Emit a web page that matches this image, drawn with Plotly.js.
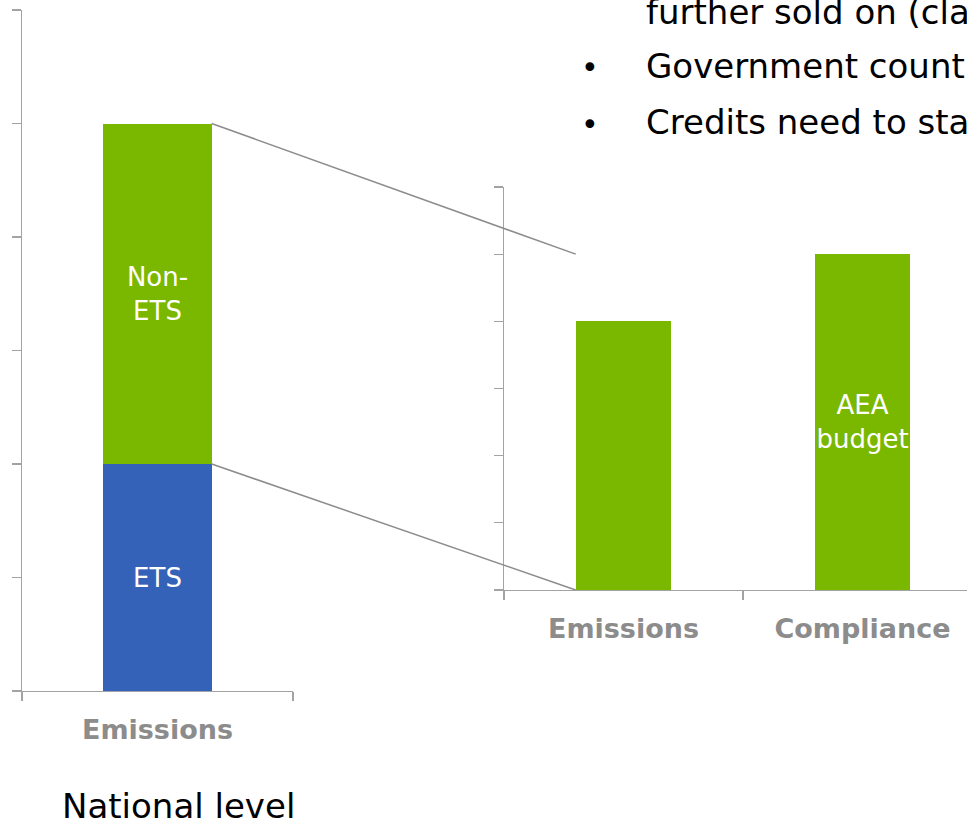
<!DOCTYPE html>
<html>
<head>
<meta charset="utf-8">
<script src="https://cdn.plot.ly/plotly-3.0.1.min.js"></script>
<style>
html,body{margin:0;padding:0;background:#fff;}
#chart{width:967px;height:826px;}
</style>
</head>
<body>
<div id="chart"></div>
<script>
// ---- data ----
const leftCategories = ["Emissions"];
const etsValues = [2];
const nonEtsValues = [3];
const etsLabels = ["ETS"];
const nonEtsLabels = ["Non-<br>ETS"];
const rightCategories = ["Emissions", "Compliance"];
const rightValues = [4, 5];
const rightLabels = ["", "AEA<br>budget"];
const yTickValues = [0, 1, 2, 3, 4, 5, 6];
const bodyLines = ["further sold on (cla", "Government count", "Credits need to sta"];
const bodyBullets = ["", "•", "•"];
const footerText = "National level";

// ---- style ----
const FONT = "DejaVu Sans";
const GREEN = "#7AB800";
const BLUE = "#3462B8";
const AXIS = "#a3a3a3";
const LABEL = "#8c8c8c";
const W = 967, H = 826;
const BARW = 0.4;

const leftXDomain = [22 / W, 293 / W];
const leftYDomain = [1 - 691 / H, 1 - 10 / H];
const rightXDomain = [504 / W, 1];
const rightYDomain = [1 - 590 / H, 1 - 187 / H];
const leftXRange = [-0.5, 0.5];
const rightXRange = [-0.5, -0.5 + (W - 504) / 239];
const yRange = [0, 6];

function toPaper(v, range, domain) {
  return domain[0] + (v - range[0]) / (range[1] - range[0]) * (domain[1] - domain[0]);
}

const barText = {family: FONT, size: 26, color: "#ffffff"};
const traces = [
  {
    type: "bar", x: leftCategories, y: etsValues, xaxis: "x", yaxis: "y",
    marker: {color: BLUE}, text: etsLabels, textposition: "inside", textangle: 0,
    insidetextanchor: "middle", constraintext: "none",
    textfont: barText, hoverinfo: "none"
  },
  {
    type: "bar", x: leftCategories, y: nonEtsValues, xaxis: "x", yaxis: "y",
    marker: {color: GREEN}, text: nonEtsLabels, textposition: "inside", textangle: 0,
    insidetextanchor: "middle", constraintext: "none",
    textfont: barText, hoverinfo: "none"
  },
  {
    type: "bar", x: rightCategories, y: rightValues, xaxis: "x2", yaxis: "y2",
    marker: {color: GREEN}, text: rightLabels, textposition: "inside", textangle: 0,
    insidetextanchor: "middle", constraintext: "none",
    textfont: barText, hoverinfo: "none"
  }
];

const xAxisCommon = {
  type: "category", showgrid: false, zeroline: false, showline: true,
  linecolor: AXIS, linewidth: 1.3, ticks: "outside", tickson: "boundaries",
  ticklen: 9, tickcolor: AXIS, tickwidth: 1.3, ticklabelstandoff: 14,
  tickfont: {family: FONT, size: 27, color: LABEL, weight: "bold"},
  fixedrange: true
};
const yAxisCommon = {
  range: yRange, showgrid: false, zeroline: false, showline: true,
  linecolor: AXIS, linewidth: 1.3, ticks: "outside", ticklen: 9,
  tickcolor: AXIS, tickwidth: 1.3, tickvals: yTickValues,
  showticklabels: false, fixedrange: true
};

// connector lines from left stacked bar to right chart
const total = etsValues[0] + nonEtsValues[0];
const lx = toPaper(0 + BARW / 2, leftXRange, leftXDomain);
const rx = toPaper(0 - BARW / 2, rightXRange, rightXDomain);
const shapes = [
  {type: "line", xref: "paper", yref: "paper",
   x0: lx, y0: toPaper(total, yRange, leftYDomain),
   x1: rx, y1: toPaper(total, yRange, rightYDomain),
   line: {color: "#8c8c8c", width: 1.5}},
  {type: "line", xref: "paper", yref: "paper",
   x0: lx, y0: toPaper(etsValues[0], yRange, leftYDomain),
   x1: rx, y1: toPaper(0, yRange, rightYDomain),
   line: {color: "#8c8c8c", width: 1.5}}
];

const lineY = [12, 66, 122];
const annotations = [];
bodyLines.forEach((t, i) => {
  annotations.push({
    text: t, xref: "paper", yref: "paper", x: 644 / W, y: 1 - lineY[i] / H,
    xanchor: "left", yanchor: "middle", showarrow: false,
    font: {family: FONT, size: 34, color: "#000000"}
  });
  if (bodyBullets[i]) {
    annotations.push({
      text: bodyBullets[i], xref: "paper", yref: "paper", x: 590 / W, y: 1 - (lineY[i] + 2) / H,
      xanchor: "center", yanchor: "middle", showarrow: false,
      font: {family: FONT, size: 30, color: "#000000"}
    });
  }
});
annotations.push({
  text: footerText, xref: "paper", yref: "paper", x: 178 / W, y: 1 - 806 / H,
  xanchor: "center", yanchor: "middle", showarrow: false,
  font: {family: FONT, size: 34, color: "#000000"}
});

const layout = {
  width: W, height: H,
  margin: {l: 0, r: 0, t: 0, b: 0, pad: 0},
  paper_bgcolor: "#ffffff", plot_bgcolor: "rgba(0,0,0,0)",
  showlegend: false, barmode: "stack", bargap: 1 - BARW,
  xaxis: Object.assign({}, xAxisCommon, {domain: leftXDomain, range: leftXRange, anchor: "y"}),
  yaxis: Object.assign({}, yAxisCommon, {domain: leftYDomain, anchor: "x"}),
  xaxis2: Object.assign({}, xAxisCommon, {domain: rightXDomain, range: rightXRange, anchor: "y2"}),
  yaxis2: Object.assign({}, yAxisCommon, {domain: rightYDomain, anchor: "x2"}),
  shapes: shapes,
  annotations: annotations
};

Plotly.newPlot("chart", traces, layout, {staticPlot: true, displayModeBar: false});
</script>
</body>
</html>
